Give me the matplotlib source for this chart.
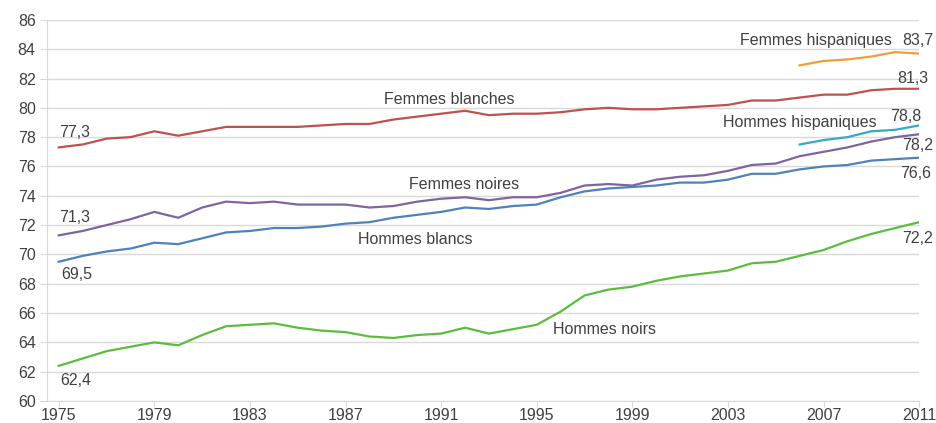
import matplotlib
matplotlib.use("Agg")
import matplotlib.pyplot as plt

plt.rcParams['font.family'] = ['Liberation Sans', 'DejaVu Sans']

TEXT = '#404040'
GRID = '#d9d9d9'

years = list(range(1975, 2012))
years_hisp = list(range(2006, 2012))

femmes_blanches = [77.3, 77.5, 77.9, 78.0, 78.4, 78.1, 78.4, 78.7, 78.7, 78.7,
                   78.7, 78.8, 78.9, 78.9, 79.2, 79.4, 79.6, 79.8, 79.5, 79.6,
                   79.6, 79.7, 79.9, 80.0, 79.9, 79.9, 80.0, 80.1, 80.2, 80.5,
                   80.5, 80.7, 80.9, 80.9, 81.2, 81.3, 81.3]
femmes_noires = [71.3, 71.6, 72.0, 72.4, 72.9, 72.5, 73.2, 73.6, 73.5, 73.6,
                 73.4, 73.4, 73.4, 73.2, 73.3, 73.6, 73.8, 73.9, 73.7, 73.9,
                 73.9, 74.2, 74.7, 74.8, 74.7, 75.1, 75.3, 75.4, 75.7, 76.1,
                 76.2, 76.7, 77.0, 77.3, 77.7, 78.0, 78.2]
hommes_blancs = [69.5, 69.9, 70.2, 70.4, 70.8, 70.7, 71.1, 71.5, 71.6, 71.8,
                 71.8, 71.9, 72.1, 72.2, 72.5, 72.7, 72.9, 73.2, 73.1, 73.3,
                 73.4, 73.9, 74.3, 74.5, 74.6, 74.7, 74.9, 74.9, 75.1, 75.5,
                 75.5, 75.8, 76.0, 76.1, 76.4, 76.5, 76.6]
hommes_noirs = [62.4, 62.9, 63.4, 63.7, 64.0, 63.8, 64.5, 65.1, 65.2, 65.3,
                65.0, 64.8, 64.7, 64.4, 64.3, 64.5, 64.6, 65.0, 64.6, 64.9,
                65.2, 66.1, 67.2, 67.6, 67.8, 68.2, 68.5, 68.7, 68.9, 69.4,
                69.5, 69.9, 70.3, 70.9, 71.4, 71.8, 72.2]
femmes_hisp = [82.9, 83.2, 83.3, 83.5, 83.8, 83.7]
hommes_hisp = [77.5, 77.8, 78.0, 78.4, 78.5, 78.8]

fig = plt.figure(figsize=(9.36, 4.23), dpi=100)
ax = fig.add_axes([0.050, 0.052, 0.932, 0.901])

ax.plot(years, femmes_blanches, color='#c0504d', lw=1.6)
ax.plot(years, femmes_noires, color='#8064a2', lw=1.6)
ax.plot(years, hommes_blancs, color='#4f81bd', lw=1.6)
ax.plot(years, hommes_noirs, color='#5dbb3f', lw=1.6)
ax.plot(years_hisp, femmes_hisp, color='#f39c3c', lw=1.6)
ax.plot(years_hisp, hommes_hisp, color='#36a9c1', lw=1.6)

ax.set_xlim(1974.5, 2011)
ax.set_ylim(60, 86)
ax.set_xticks(range(1975, 2012, 4))
ax.set_yticks(range(60, 87, 2))
ax.grid(axis='y', color=GRID, lw=1)
ax.set_axisbelow(True)
for s in ['top', 'right']:
    ax.spines[s].set_visible(False)
ax.spines['left'].set_color(GRID)
ax.spines['bottom'].set_color(GRID)
ax.tick_params(colors=GRID, labelcolor=TEXT, labelsize=11.5)
ax.tick_params(axis='x', length=4, pad=1)
ax.tick_params(axis='y', length=5, pad=3)

fs = 11.5
# series names
ax.text(1988.6, 80.6, 'Femmes blanches', color=TEXT, fontsize=fs, va='center')
ax.text(1989.65, 74.8, 'Femmes noires', color=TEXT, fontsize=fs, va='center')
ax.text(1987.5, 71.05, 'Hommes blancs', color=TEXT, fontsize=fs, va='center')
ax.text(1995.7, 64.9, 'Hommes noirs', color=TEXT, fontsize=fs, va='center')
ax.text(2003.5, 84.57, 'Femmes hispaniques', color=TEXT, fontsize=fs, va='center')
ax.text(2002.8, 79.0, 'Hommes hispaniques', color=TEXT, fontsize=fs, va='center')

# start values
ax.text(1975, 78.35, '77,3', color=TEXT, fontsize=fs, va='center')
ax.text(1975, 72.55, '71,3', color=TEXT, fontsize=fs, va='center')
ax.text(1975.1, 68.6, '69,5', color=TEXT, fontsize=fs, va='center')
ax.text(1975.05, 61.4, '62,4', color=TEXT, fontsize=fs, va='center')

# end values
ax.text(2010.3, 84.57, '83,7', color=TEXT, fontsize=fs, va='center', clip_on=False)
ax.text(2010.1, 81.97, '81,3', color=TEXT, fontsize=fs, va='center', clip_on=False)
ax.text(2009.8, 79.4, '78,8', color=TEXT, fontsize=fs, va='center', clip_on=False)
ax.text(2010.3, 77.4, '78,2', color=TEXT, fontsize=fs, va='center', clip_on=False)
ax.text(2010.2, 75.55, '76,6', color=TEXT, fontsize=fs, va='center', clip_on=False)
ax.text(2010.3, 71.1, '72,2', color=TEXT, fontsize=fs, va='center', clip_on=False)

fig.savefig('out.png', dpi=100)
